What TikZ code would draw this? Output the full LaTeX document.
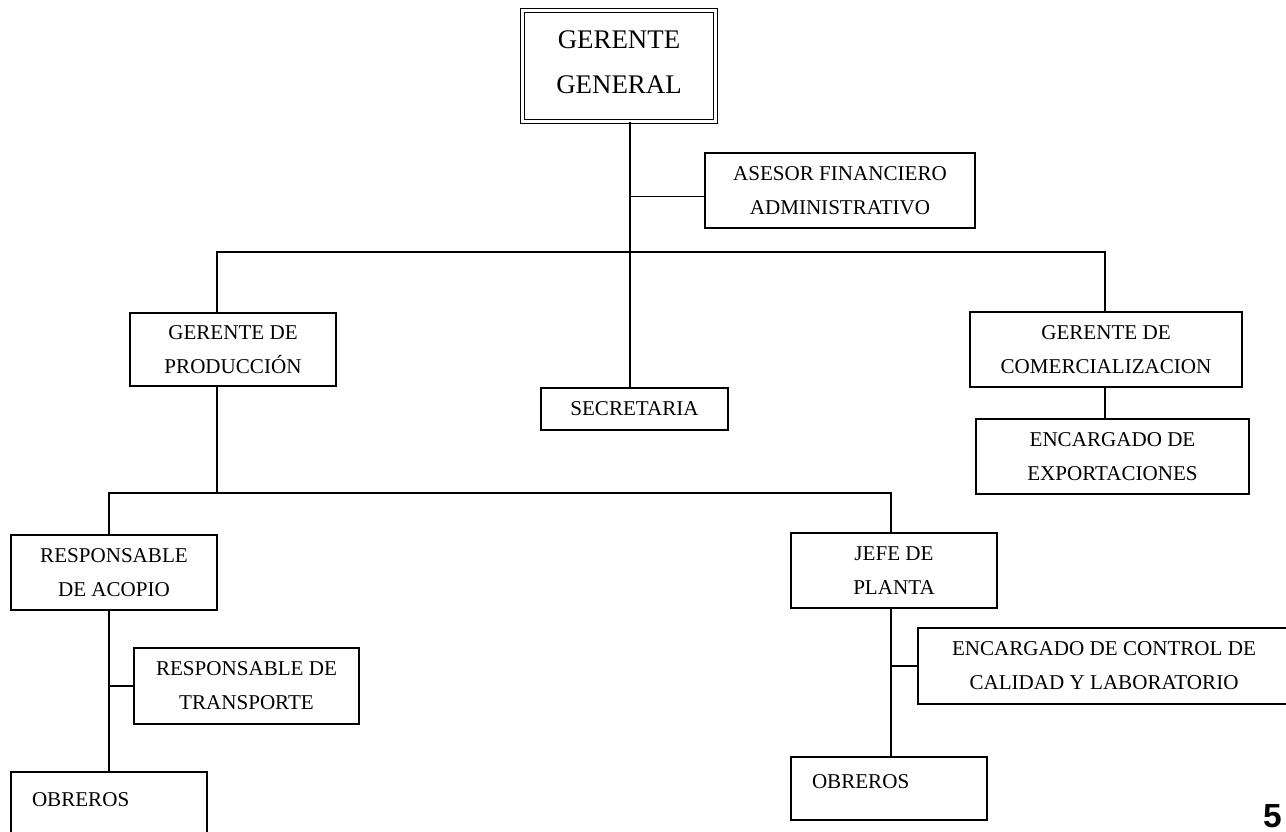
\documentclass[tikz,border=0pt]{standalone}
\usepackage{fontspec}
\setmainfont{Liberation Serif}
\newfontfamily\numfont{Liberation Sans}
\newlength{\unitpx}
\setlength{\unitpx}{0.02cm}

\begin{document}
\begin{tikzpicture}[x=0.02cm,y=-0.02cm,
  box/.style={draw,line width=.8pt,align=center,inner sep=0pt,
    font=\fontsize{12}{19.3}\selectfont},
  obr/.style={box,align=left,text width=154\unitpx,inner xsep=21\unitpx,
    text height=0pt,text depth=0pt},
  con/.style={line width=1.1pt}]
  \useasboundingbox (0,0) rectangle (1286,832);

  \node[box,double,line width=.8pt,double distance=1.3pt,minimum width=193\unitpx,
    minimum height=111\unitpx,font=\fontsize{15.3}{25.5}\selectfont] (gg) at (619,66) {GERENTE\\GENERAL\\[-21pt]};
  \node[box,minimum width=270\unitpx,minimum height=75\unitpx] (ases) at (840,190.5) {ASESOR FINANCIERO\\ADMINISTRATIVO};
  \node[box,minimum width=206\unitpx,minimum height=73\unitpx] (prod) at (233,349.5) {GERENTE DE\\PRODUCCIÓN};
  \node[box,minimum width=187\unitpx,minimum height=42\unitpx] (secre) at (634.5,409) {SECRETARIA};
  \node[box,minimum width=272\unitpx,minimum height=75\unitpx] (comer) at (1106,349.5) {GERENTE DE\\COMERCIALIZACION};
  \node[box,minimum width=273\unitpx,minimum height=75\unitpx] (expo) at (1112.5,456.5) {ENCARGADO DE\\EXPORTACIONES};
  \node[box,minimum width=206\unitpx,minimum height=75\unitpx] (acopio) at (114,572.5) {RESPONSABLE\\DE ACOPIO};
  \node[box,minimum width=206\unitpx,minimum height=75\unitpx] (planta) at (894,570.5) {JEFE DE\\PLANTA};
  \node[box,minimum width=225\unitpx,minimum height=76\unitpx] (trans) at (246.5,686) {RESPONSABLE DE\\TRANSPORTE};
  \node[box,minimum width=372\unitpx,minimum height=76\unitpx] (calidad) at (1104,666) {ENCARGADO DE CONTROL DE\\CALIDAD Y LABORATORIO};
  \node[obr,minimum width=196\unitpx,minimum height=68\unitpx] (obrL) at (109,806) {OBREROS};
  \node[obr,minimum width=196\unitpx,minimum height=63\unitpx] (obrR) at (889,788.5) {OBREROS};
  \node[anchor=south east,inner sep=0pt,font=\numfont\bfseries\fontsize{19}{19}\selectfont] (pnum) at (1282,828) {5};

  \coordinate (jt) at (630,252);
  \coordinate (jl) at (217,252);
  \coordinate (jr) at (1105,252);
  \coordinate (jb) at (217,493);
  \coordinate (jbl) at (109,493);
  \coordinate (jbr) at (891,493);

  \draw[con] (jt |- gg.south) -- (jt |- secre.north);
  \draw[con] ([yshift=-6\unitpx]jt |- ases.west) -- ([yshift=-6\unitpx]ases.west);
  \draw[con] (jl |- prod.north) -- (jl) -- (jr) -- (jr |- comer.north);
  \draw[con] (jr |- comer.south) -- (jr |- expo.north);
  \draw[con] (jl |- prod.south) -- (jb);
  \draw[con] (jbl |- acopio.north) -- (jbl) -- (jbr) -- (jbr |- planta.north);
  \draw[con] (jbl |- acopio.south) -- (jbl |- obrL.north);
  \draw[con] (jbl |- trans.west) -- (trans.west);
  \draw[con] (jbr |- planta.south) -- (jbr |- obrR.north);
  \draw[con] (jbr |- calidad.west) -- (calidad.west);
\end{tikzpicture}
\end{document}
